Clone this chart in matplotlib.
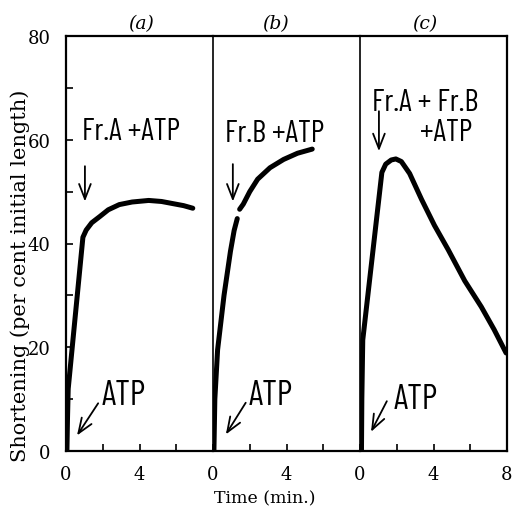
import matplotlib
matplotlib.use("Agg")
import matplotlib.pyplot as plt

# ---- data ----
time_a = [0.05, 0.08, 0.12, 0.92, 1.1, 1.4, 1.84, 2.3, 2.9, 3.6, 4.5, 5.2, 5.8, 6.4, 6.9]
short_a = [0, 6, 12, 41.2, 42.6, 44.0, 45.2, 46.5, 47.5, 48.0, 48.3, 48.1, 47.7, 47.3, 46.8]

time_b1 = [0.05, 0.1, 0.25, 0.6, 0.95, 1.15, 1.32]
short_b1 = [0, 10, 19.5, 30, 38.5, 42.5, 44.8]
time_b2 = [1.45, 1.65, 2.0, 2.43, 3.1, 3.84, 4.6, 5.4]
short_b2 = [46.6, 47.6, 50.0, 52.4, 54.6, 56.2, 57.4, 58.2]

time_c = [0.08, 0.1, 0.15, 1.19, 1.4, 1.7, 1.95, 2.25, 2.7, 3.35, 4.05, 4.8, 5.7, 6.6, 7.3, 7.95]
short_c = [0, 10, 21.4, 53.7, 55.3, 56.1, 56.3, 55.8, 53.5, 48.5, 43.5, 38.8, 32.8, 27.8, 23.4, 18.9]

panel_titles = ["(a)", "(b)", "(c)"]
y_ticks = [0, 20, 40, 60, 80]
x_ticklabels_ab = ["0", "", "4", ""]
x_ticklabels_c = ["0", "", "4", "", "8"]
label_a = "Fr.A +ATP"
label_b = "Fr.B +ATP"
label_c1 = "Fr.A + Fr.B"
label_c2 = "+ATP"
label_atp = "ATP"

SERIF = ["DejaVu Serif"]
SANS = ["Barlow Condensed", "Roboto Condensed", "Liberation Sans Narrow", "DejaVu Sans"]

fig = plt.figure(figsize=(5.12, 5.10), dpi=100)
gs = fig.add_gridspec(1, 3, left=66/512, right=507/512, bottom=1-452/510, top=1-37/510, wspace=0)
axes = [fig.add_subplot(gs[0, i]) for i in range(3)]

curve_kw = dict(color="black", lw=3.6, solid_capstyle="round", solid_joinstyle="round")
axes[0].plot(time_a, short_a, **curve_kw)
axes[1].plot(time_b1, short_b1, **curve_kw)
axes[1].plot(time_b2, short_b2, **curve_kw)
axes[2].plot(time_c, short_c, **curve_kw)

arrow_kw = dict(arrowstyle="->,head_length=0.9,head_width=0.35", color="black", lw=1.3,
                shrinkA=0, shrinkB=0, mutation_scale=12)

for i, ax in enumerate(axes):
    ax.set_xlim(0, 8)
    ax.set_ylim(0, 80)
    for s in ax.spines.values():
        s.set_linewidth(1.6)
        s.set_color("black")
    if i < 2:
        ax.spines["right"].set_visible(False)
        ax.set_xticks([0, 2, 4, 6])
        ax.set_xticklabels(x_ticklabels_ab)
    else:
        ax.set_xticks([0, 2, 4, 6, 8])
        ax.set_xticklabels(x_ticklabels_c)
    if i > 0:
        ax.spines["left"].set_linewidth(1.2)
        ax.tick_params(axis="y", left=False, labelleft=False)
    else:
        ax.set_yticks(range(0, 81, 10))
        ax.set_yticklabels([str(v) if v in y_ticks else "" for v in range(0, 81, 10)])
        ax.tick_params(axis="y", direction="in", length=5, width=1.2, pad=11,
                       labelsize=13)
    ax.tick_params(axis="x", direction="in", length=5, width=1.2, pad=10, labelsize=13)
    for lab in ax.get_xticklabels() + ax.get_yticklabels():
        lab.set_family(SERIF)
    ax.set_title(panel_titles[i], fontstyle="italic", family=SERIF, fontsize=13.5)

axes[0].title.set_position((4.1/8, 1.0))
axes[1].title.set_position((3.4/8, 1.0))
axes[2].title.set_position((3.55/8, 1.0))
for ax in axes:
    ax.title.set_y(1.035)

tkw = dict(family=SANS, fontsize=22, fontweight="normal", ha="center", va="center")
akw = dict(family=SANS, fontsize=25, fontweight="normal", ha="left", va="center")
# panel a
axes[0].text(3.54, 61.6, label_a, **tkw)
axes[0].annotate("", xy=(1.03, 48.1), xytext=(1.03, 54.9), arrowprops=arrow_kw)
axes[0].text(1.95, 10.8, label_atp, **akw)
axes[0].annotate("", xy=(0.6, 3.0), xytext=(1.75, 9.2), arrowprops=arrow_kw)
# panel b
axes[1].text(3.35, 61.3, label_b, **tkw)
axes[1].annotate("", xy=(1.08, 48.1), xytext=(1.08, 55.3), arrowprops=arrow_kw)
axes[1].text(1.95, 10.8, label_atp, **akw)
axes[1].annotate("", xy=(0.7, 3.2), xytext=(1.78, 9.3), arrowprops=arrow_kw)
# panel c
axes[2].text(3.57, 67.3, label_c1, **tkw)
axes[2].text(4.68, 61.4, label_c2, **tkw)
axes[2].annotate("", xy=(1.03, 57.8), xytext=(1.03, 65.5), arrowprops=arrow_kw)
axes[2].text(1.84, 10.0, label_atp, **akw)
axes[2].annotate("", xy=(0.6, 3.7), xytext=(1.46, 9.6), arrowprops=arrow_kw)

fig.text(20/512, 1-276/510, "Shortening (per cent initial length)", rotation=90,
         ha="center", va="center", family=SERIF, fontsize=15)
fig.text(265/512, 1-499/510, "Time (min.)", ha="center", va="center",
         family=SERIF, fontsize=12.5)

fig.savefig("out.png", dpi=100)
